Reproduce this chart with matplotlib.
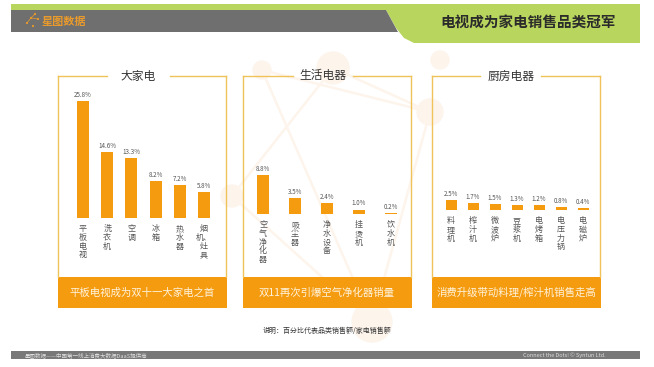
import matplotlib.pyplot as plt
from matplotlib.patches import Circle, Polygon, Rectangle
import numpy as np

plt.rcParams['font.family'] = ['Noto Sans CJK SC', 'DejaVu Sans']

W, H = 654, 367

# --- data ---
big_cats = ['平板电视', '洗衣机', '空调', '冰箱', '热水器', '烟机、灶具']
big_vals = [25.8, 14.6, 13.3, 8.2, 7.2, 5.8]

life_cats = ['空气净化器', '吸尘器', '净水设备', '挂烫机', '饮水机']
life_vals = [8.8, 3.5, 2.4, 1.0, 0.2]

kitchen_cats = ['料理机', '榨汁机', '微波炉', '豆浆机', '电烤箱', '电压力锅', '电磁炉']
kitchen_vals = [2.5, 1.7, 1.5, 1.3, 1.2, 0.8, 0.4]

panel_titles = ['大家电', '生活电器', '厨房电器']
panel_notes = ['平板电视成为双十一大家电之首', '双11再次引爆空气净化器销量',
               '消费升级带动料理/榨汁机销售走高']

ORANGE = '#f59b0f'
BORDER = '#f0c35a'
GREY_TXT = '#555555'


def px_axes(fig, x0, y0, x1, y1, **kw):
    # pixel box (top-left origin) -> figure axes
    return fig.add_axes([x0 / W, 1 - y1 / H, (x1 - x0) / W, (y1 - y0) / H], **kw)


def vertical(label):
    lines = []
    for ch in label:
        if ch in '、，' and lines:
            lines[-1] += ch
        else:
            lines.append(ch)
    return '\n'.join(lines)


fig = plt.figure(figsize=(W / 100, H / 100), dpi=100)

# background layer in pixel coords
bg = px_axes(fig, 0, 0, W, H)
bg.set_xlim(0, W)
bg.set_ylim(H, 0)
bg.axis('off')

# faint network decoration
deco = '#fdf4ec'
nodes = [(333, 68, 16), (232, 196, 11), (430, 112, 13), (372, 322, 20), (262, 70, 9), (440, 60, 9)]
for a, b in [(0, 1), (0, 2), (4, 2), (4, 3), (1, 3), (2, 3)]:
    bg.plot([nodes[a][0], nodes[b][0]], [nodes[a][1], nodes[b][1]], color=deco, lw=1.8, zorder=0)
for x, y, r in nodes:
    bg.add_patch(Circle((x, y), r, color=deco, zorder=0))

# header
bg.add_patch(Polygon([(11, 4), (640, 4), (640, 43), (414, 43), (404, 38), (396, 28), (386, 10), (11, 10)],
                     closed=True, color='#b8d65e', lw=0))
bg.add_patch(Polygon([(11, 10), (386, 10), (398, 32), (11, 32)], closed=True, color='#6f6f6f', lw=0))
bg.text(528, 22, '电视成为家电销售品类冠军', fontsize=10.5, fontweight='bold', color='#2b2b2b',
        ha='center', va='center')
# logo
for x, y in [(27, 23), (31, 18), (35, 14), (38, 19), (33, 26)]:
    bg.add_patch(Circle((x, y), 1.1, color='#e89a2c', lw=0))
bg.plot([27, 31, 35], [23, 18, 14], color='#e89a2c', lw=0.5)
bg.plot([31, 38], [18, 19], color='#e89a2c', lw=0.5)
bg.text(42, 21.5, '星图数据', fontsize=8, fontweight='bold', color='#e89a2c', ha='left', va='center')

# panels
panels = [(58, 226), (243, 411), (432, 600)]
title_cx = [138, 323, 511]
title_gap = [(107, 170), (293, 353), (480, 541)]
top, band_top, band_bot = 76, 277, 308
for (x0, x1), cx, (g0, g1), t, note in zip(panels, title_cx, title_gap, panel_titles, panel_notes):
    bg.plot([x0, x0], [top, band_top], color=BORDER, lw=1)
    bg.plot([x1, x1], [top, band_top], color=BORDER, lw=1)
    bg.plot([x0, g0], [top, top], color=BORDER, lw=1)
    bg.plot([g1, x1], [top, top], color=BORDER, lw=1)
    bg.text(cx, top, t, fontsize=8.5, color='#333333', ha='center', va='center')
    bg.add_patch(Rectangle((x0 - 0.5, band_top), x1 - x0 + 1, band_bot - band_top, color=ORANGE, lw=0))
    bg.text((x0 + x1) / 2, (band_top + band_bot) / 2, note, fontsize=7.5, color='#fff3dc',
            ha='center', va='center')

bg.text(327, 331, '说明：百分比代表品类销售额/家电销售额', fontsize=5, color='#333333',
        ha='center', va='center')

# footer
bg.add_patch(Rectangle((11, 351), 629, 8, color='#787878', lw=0))
bg.text(25, 355, '星图数据——中国第一线上消费大数据DaaS提供商', fontsize=4, color='#dddddd',
        ha='left', va='center')
bg.text(606, 355, 'Connect the Dots! © Syntun Ltd.', fontsize=4, color='#dddddd',
        ha='right', va='center')

# bar charts: first bar centre, spacing, baseline y, px per %, bar width
specs = [
    (big_cats, big_vals, 83, 24.2, 218, 4.53, 0.5),
    (life_cats, life_vals, 263, 32.0, 214, 4.45, 0.375),
    (kitchen_cats, kitchen_vals, 451, 22.0, 210, 4.0, 0.5),
]
for cats, vals, c0, sp, base, scale, bw in specs:
    n = len(cats)
    ax = px_axes(fig, c0 - sp / 2, base - 130, c0 - sp / 2 + n * sp, base)
    ax.patch.set_alpha(0)
    ax.set_xlim(-0.5, n - 0.5)
    ax.set_ylim(0, 130 / scale)
    ax.axis('off')
    x = np.arange(n)
    ax.bar(x, vals, width=bw, color=ORANGE, lw=0)
    for i, (c, v) in enumerate(zip(cats, vals)):
        ax.annotate(f'{v:.1f}%', (i, v), xytext=(0, 1.5), textcoords='offset points',
                    ha='center', va='bottom', fontsize=4.5, color='#555555')
        ax.annotate(vertical(c), (i, 0), xytext=(0, -4.5), textcoords='offset points',
                    ha='center', va='top', fontsize=5.8, color=GREY_TXT, linespacing=0.95,
                    annotation_clip=False)

fig.savefig('out.png', dpi=100)
